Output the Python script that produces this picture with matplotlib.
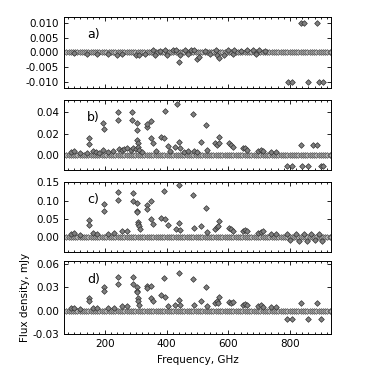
import numpy as np
import matplotlib
matplotlib.use("Agg")
import matplotlib.pyplot as plt
from matplotlib.ticker import MultipleLocator, FormatStrFormatter

# line frequencies that sit on zero in every panel (GHz)
base_freq = [75, 82, 89, 96, 103, 110, 118, 125, 132, 139, 146, 153, 160, 168, 175,
             182, 190, 197, 204, 212, 219, 226, 233, 241, 248, 255, 262, 270, 277, 284,
             291, 298, 306, 313, 320, 327, 335, 342, 349, 356, 364, 371, 378, 385, 393,
             400, 407, 414, 422, 429, 436, 443, 451, 458, 465, 472, 480, 487, 494, 501,
             509, 516, 523, 530, 538, 545, 552, 559, 567, 574, 581, 588, 596, 603, 610,
             617, 625, 632, 639, 646, 654, 661, 668, 675, 683, 690, 697, 704, 712, 719,
             726, 733, 741, 748, 755, 762, 770, 777, 784, 791, 799, 806, 813, 820, 828,
             835, 842, 849, 857, 864, 871, 878, 886, 893, 900, 907, 915, 922, 929, 935]

# panel a)
a_freq = [100, 140, 175, 210, 240, 255, 300, 310, 330, 355, 362, 380, 395, 400, 420,
          430, 440, 445, 460, 470, 480, 490, 498, 505, 525, 540, 560, 565, 571, 585,
          600, 615, 620, 640, 660, 680, 690, 700, 720,
          836, 845, 887, 793, 808, 858, 895, 907]
a_flux = [-0.0003, -0.0004, -0.0005, -0.0006, -0.0008, -0.0005, -0.0010, -0.0008, -0.0005, 0.0008,
          -0.0008, 0.0006, 0.0008, -0.0010, 0.0007, 0.0008, -0.0031, -0.0008, 0.0008, -0.0006,
          0.0009, 0.0007, -0.0023, -0.0016, 0.0006, -0.0006, 0.0008, -0.0008, -0.0020, -0.0010,
          0.0008, -0.0006, 0.0008, 0.0004, 0.0008, 0.0008, -0.0005, 0.0008, 0.0005,
          0.010, 0.010, 0.010, -0.010, -0.010, -0.010, -0.010, -0.010]

# panel b)
b_freq = [90, 100, 120, 140, 149, 149, 160, 170, 180, 195, 195, 197, 210, 225, 243,
          243, 245, 255, 262, 270, 285, 289, 289, 292, 300, 303, 305, 305, 306, 308,
          310, 320, 335, 337, 348, 348, 355, 365, 381, 392, 395, 403, 410, 428, 435,
          440, 445, 455, 470, 484, 490, 500, 511, 528, 531, 558, 565, 570, 571, 603,
          609, 615, 648, 655, 661, 697, 705, 712, 740, 755,
          836, 876, 887, 792, 808, 839, 858, 900, 909]
b_flux = [0.003, 0.004, 0.002, 0.002, 0.0156, 0.0107, 0.004, 0.003, 0.002, 0.005, 0.030, 0.024,
          0.003, 0.004, 0.040, 0.033, 0.006, 0.005, 0.006, 0.007, 0.005, 0.040, 0.033, 0.007,
          0.006, 0.030, 0.023, 0.014, 0.011, 0.008, 0.005, 0.003, 0.026, 0.029, 0.032, 0.016,
          0.011, 0.004, 0.017, 0.016, 0.041, 0.009, 0.004, 0.008, 0.047, 0.012, 0.007, 0.003,
          0.004, 0.038, 0.004, 0.003, 0.012, 0.028, 0.005, 0.011, 0.010, 0.011, 0.017, 0.011,
          0.010, 0.008, 0.007, 0.007, 0.005, 0.004, 0.005, 0.004, 0.003, 0.003,
          0.010, 0.010, 0.010, -0.010, -0.010, -0.010, -0.010, -0.010, -0.010]

# panel c)
c_freq = [90, 100, 120, 149, 149, 160, 175, 197, 197, 210, 230, 243, 243, 255, 270,
          290, 290, 303, 305, 305, 306, 308, 310, 312, 335, 335, 348, 348, 355, 381,
          392, 396, 403, 429, 440, 440, 445, 484, 490, 510, 528, 531, 558, 563, 568,
          571, 603, 609, 615, 648, 655, 661, 697, 705, 712, 740, 755,
          791, 800, 820, 829, 845, 856, 868, 880, 893, 905]
c_flux = [0.008, 0.012, 0.006, 0.046, 0.033, 0.012, 0.010, 0.092, 0.072, 0.010, 0.012, 0.122,
          0.101, 0.016, 0.018, 0.120, 0.100, 0.093, 0.072, 0.068, 0.042, 0.036, 0.030, 0.022,
          0.088, 0.076, 0.098, 0.050, 0.036, 0.052, 0.125, 0.050, 0.034, 0.023, 0.143, 0.040,
          0.020, 0.116, 0.026, 0.030, 0.079, 0.015, 0.024, 0.027, 0.030, 0.045, 0.025, 0.022,
          0.018, 0.018, 0.020, 0.016, 0.012, 0.014, 0.016, 0.010, 0.010,
          0.008, -0.008, 0.010, -0.010, 0.008, -0.010, 0.010, -0.008, 0.010, -0.010]

# panel d)
d_freq = [90, 100, 120, 149, 149, 160, 175, 197, 197, 210, 230, 243, 243, 255, 270,
          290, 290, 303, 303, 305, 306, 308, 310, 335, 335, 348, 348, 355, 381, 392,
          396, 403, 428, 440, 440, 445, 484, 490, 511, 528, 531, 558, 563, 568, 571,
          603, 609, 615, 648, 655, 661, 697, 705, 712, 740, 755,
          836, 887, 791, 808, 858, 900]
d_flux = [0.003, 0.004, 0.002, 0.016, 0.012, 0.004, 0.003, 0.031, 0.025, 0.004, 0.004, 0.043,
          0.035, 0.006, 0.006, 0.043, 0.035, 0.031, 0.025, 0.024, 0.016, 0.012, 0.008, 0.032,
          0.029, 0.032, 0.017, 0.012, 0.020, 0.042, 0.018, 0.006, 0.008, 0.049, 0.014, 0.008,
          0.041, 0.008, 0.012, 0.030, 0.006, 0.010, 0.012, 0.010, 0.018, 0.011, 0.010, 0.011,
          0.007, 0.009, 0.007, 0.006, 0.007, 0.005, 0.005, 0.005,
          0.010, 0.010, -0.010, -0.010, -0.010, -0.010]

panels = [("a)", a_freq, a_flux, (-0.012, 0.012), 0.005, "%.3f"),
          ("b)", b_freq, b_flux, (-0.0135, 0.051), 0.02, "%.2f"),
          ("c)", c_freq, c_flux, (-0.04, 0.15), 0.05, "%.2f"),
          ("d)", d_freq, d_flux, (-0.03, 0.064), 0.03, "%.2f")]

plt.rcParams["font.size"] = 7.5
fig = plt.figure(figsize=(3.68, 3.68), dpi=100)

bottoms = [0.761, 0.538, 0.315, 0.092]
heights = [0.193, 0.190, 0.190, 0.199]
mk = dict(marker="D", ms=2.9, mfc="0.5", mec="0.2", mew=0.5, ls="none")

for i, (lab, f, v, yl, step, fmt) in enumerate(panels):
    ax = fig.add_axes([0.174, bottoms[i], 0.725, heights[i]])
    ax.axhline(0, color="k", lw=0.6, zorder=1)
    ax.plot(base_freq, np.zeros(len(base_freq)), zorder=2,
            marker="D", ms=2.9, mfc="0.75", mec="0.3", mew=0.5, ls="none")
    ax.plot(f, v, zorder=3, **mk)
    ax.set_xlim(67, 933)
    ax.set_ylim(*yl)
    ax.xaxis.set_major_locator(MultipleLocator(200))
    ax.xaxis.set_minor_locator(MultipleLocator(20))
    ax.yaxis.set_major_locator(MultipleLocator(step))
    ax.yaxis.set_major_formatter(FormatStrFormatter(fmt))
    ax.tick_params(direction="in", top=True, right=True, which="both", length=3, width=0.6)
    ax.tick_params(which="minor", length=1.5)
    for s in ax.spines.values():
        s.set_linewidth(0.7)
    ax.text(0.086, 0.75, lab, transform=ax.transAxes, fontsize=9, va="center")
    if i < 3:
        ax.set_xticklabels([])
    else:
        ax.set_xlabel("Frequency, GHz")
        ax.set_ylabel("Flux density, mJy", labelpad=2)

fig.savefig("out.png", dpi=100)
